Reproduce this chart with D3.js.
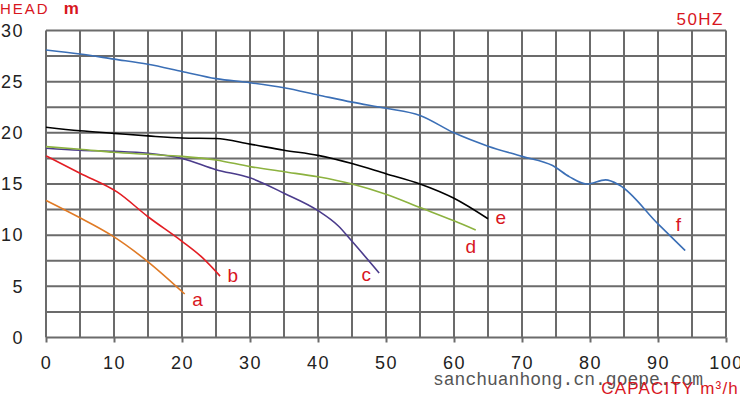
<!doctype html>
<html lang="en">
<head>
<meta charset="UTF-8">
<title>Pump curves 50HZ</title>
<script src="https://d3js.org/d3.v7.min.js"></script>
<style>
body { margin: 0; background: #fff; }
svg { display: block; }
.grid line { stroke: #6b6b6b; stroke-width: 2; }
.axis path { display: none; }
.axis line { stroke: #6b6b6b; stroke-width: 2; }
.axis text { font-family: "Liberation Sans", Arial, sans-serif; font-size: 18px; fill: #222; letter-spacing: 1.5px; }
.red { fill: #d8161e; font-family: "Liberation Sans", Arial, sans-serif; }
</style>
</head>
<body>
<div id="plot"></div>
<script>

var width = 740;
var height = 397;

// capacity (m3/h) and head (m)
var aX = [0, 5, 9.6, 15, 20.4];
var aY = [13.4, 11.7, 10.0, 7.4, 4.25];
var bX = [0, 5, 10.5, 15, 20, 23, 25.6];
var bY = [17.75, 16.05, 14.2, 11.8, 9.4, 7.8, 6.0];
var cX = [0, 5, 10, 15, 20, 25, 30, 35, 40, 43, 45, 49];
var cY = [18.5, 18.3, 18.2, 18.0, 17.5, 16.4, 15.6, 14.1, 12.4, 10.9, 9.4, 6.3];
var dX = [0, 5, 10, 15, 20, 25, 30, 35, 40, 45, 50, 55, 60, 63.2];
var dY = [18.65, 18.4, 18.1, 17.9, 17.7, 17.35, 16.7, 16.2, 15.7, 15.0, 14.0, 12.7, 11.4, 10.5];
var eX = [0, 5, 10, 15, 20, 25, 30, 35, 40, 45, 50, 55, 60, 65];
var eY = [20.55, 20.2, 19.95, 19.7, 19.5, 19.45, 18.9, 18.3, 17.8, 17.0, 16.0, 15.0, 13.6, 11.6];
var fX = [0, 5, 10, 15, 20, 25, 30, 35, 40, 45, 50, 55, 60, 65, 70, 74.5, 77, 79.5, 82.3, 84.3, 90, 94];
var fY = [28.1, 27.7, 27.2, 26.7, 26.0, 25.3, 24.9, 24.4, 23.7, 23.0, 22.4, 21.7, 20.0, 18.7, 17.7, 16.8, 15.7, 15.0, 15.4, 14.9, 11.1, 8.5];

var curveNames = ["a", "b", "c", "d", "e", "f"];
var curveColors = ["#e07a25", "#e31e24", "#4b3c8c", "#8cb23f", "#000000", "#3b6fb6"];
// where each curve letter sits, in chart units
var labelX = [21.5, 26.7, 46.4, 61.7, 66.1, 92.6];
var labelY = [3.1, 5.45, 5.5, 8.3, 11.1, 10.4];

var xTicks = [0, 10, 20, 30, 40, 50, 60, 70, 80, 90, 100];
var yTicks = [0, 5, 10, 15, 20, 25, 30];

var svg = d3.select("#plot").append("svg")
	.attr("width", width)
	.attr("height", height);

var xScale = d3.scaleLinear().domain([0, 100]).range([46, 726]);
var yScale = d3.scaleLinear().domain([0, 30]).range([337.5, 30.5]);

// grid: every 5 on capacity, every 2.5 on head
svg.append("g").attr("class", "grid")
	.selectAll("line").data(d3.range(0, 101, 5)).enter().append("line")
	.attr("x1", function (d) { return xScale(d); })
	.attr("x2", function (d) { return xScale(d); })
	.attr("y1", yScale(0))
	.attr("y2", yScale(30));

svg.append("g").attr("class", "grid")
	.selectAll("line").data(d3.range(0, 30.1, 2.5)).enter().append("line")
	.attr("x1", xScale(0))
	.attr("x2", xScale(100))
	.attr("y1", function (d) { return yScale(d); })
	.attr("y2", function (d) { return yScale(d); });

var xAxis = d3.axisBottom(xScale).tickValues(xTicks).tickSize(5).tickPadding(14);
svg.append("g")
	.attr("class", "axis")
	.attr("transform", "translate(0," + yScale(0) + ")")
	.call(xAxis);

var yAxis = d3.axisLeft(yScale).tickValues(yTicks).tickSize(0).tickPadding(22);
svg.append("g")
	.attr("class", "axis")
	.attr("transform", "translate(" + xScale(0) + ",0)")
	.call(yAxis);

var line = d3.line()
	.x(function (d) { return xScale(d[0]); })
	.y(function (d) { return yScale(d[1]); })
	.curve(d3.curveMonotoneX);

var allX = [aX, bX, cX, dX, eX, fX];
var allY = [aY, bY, cY, dY, eY, fY];

curveNames.forEach(function (name, i) {
	var pts = d3.zip(allX[i], allY[i]);
	svg.append("path")
		.attr("d", line(pts))
		.style("fill", "none")
		.style("stroke", curveColors[i])
		.style("stroke-width", 1.6);

	svg.append("text")
		.attr("class", "red")
		.attr("x", xScale(labelX[i]))
		.attr("y", yScale(labelY[i]))
		.style("font-size", "19px")
		.text(name);
});

// titles
var head = svg.append("text")
	.attr("class", "red")
	.attr("x", 0)
	.attr("y", 14)
	.style("font-size", "15px")
	.style("letter-spacing", "2px");
head.append("tspan").text("HEAD");
head.append("tspan").attr("dx", 14).style("font-weight", "bold").style("font-size", "17px").text("m");

svg.append("text")
	.attr("class", "red")
	.attr("x", 724)
	.attr("y", 25)
	.attr("text-anchor", "end")
	.style("font-size", "17px")
	.style("letter-spacing", "1.5px")
	.text("50HZ");

svg.append("text")
	.attr("x", 433)
	.attr("y", 385)
	.style("font-family", "'Liberation Mono', 'Courier New', monospace")
	.style("font-size", "18px")
	.style("fill", "#555")
	.text("sanchuanhong.cn.goepe.com");

svg.append("text")
	.attr("class", "red")
	.attr("x", 739)
	.attr("y", 394)
	.attr("text-anchor", "end")
	.style("font-size", "17px")
	.style("letter-spacing", "1.2px")
	.text("CAPACITY m\u00b3/h");

</script>
</body>
</html>
